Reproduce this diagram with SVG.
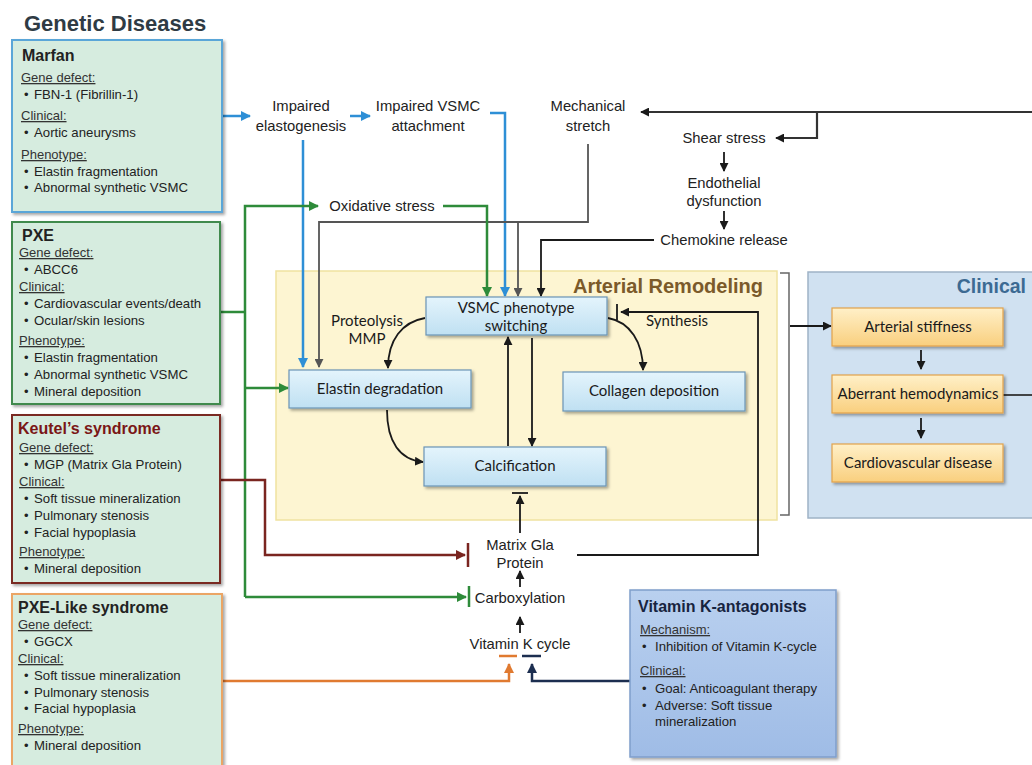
<svg xmlns="http://www.w3.org/2000/svg" width="1032" height="765" viewBox="0 0 1032 765">
<defs>
<filter id="sh" x="-10%" y="-10%" width="130%" height="130%"><feDropShadow dx="2" dy="2" stdDeviation="1.5" flood-color="#000" flood-opacity="0.35"/></filter>
<linearGradient id="gBlue" x1="0" y1="0" x2="0" y2="1"><stop offset="0" stop-color="#e4f4fc"/><stop offset="1" stop-color="#bfe0f2"/></linearGradient>
<linearGradient id="gOr" x1="0" y1="0" x2="0" y2="1"><stop offset="0" stop-color="#fff0c8"/><stop offset="1" stop-color="#f9cf7e"/></linearGradient>
<linearGradient id="gVk" x1="0" y1="0" x2="0" y2="1"><stop offset="0" stop-color="#b9d0ef"/><stop offset="1" stop-color="#9fbce6"/></linearGradient>
<marker id="aK" viewBox="0 0 10 10" refX="9" refY="5" markerWidth="9" markerHeight="9" markerUnits="userSpaceOnUse" orient="auto"><path d="M0,0 L10,5 L0,10 z" fill="#1a1a1a"/></marker>
<marker id="aG" viewBox="0 0 10 10" refX="9" refY="5" markerWidth="9" markerHeight="9" markerUnits="userSpaceOnUse" orient="auto"><path d="M0,0 L10,5 L0,10 z" fill="#555"/></marker>
<marker id="aB" viewBox="0 0 10 10" refX="9" refY="5" markerWidth="10" markerHeight="10" markerUnits="userSpaceOnUse" orient="auto"><path d="M0,0 L10,5 L0,10 z" fill="#2e8fd6"/></marker>
<marker id="aN" viewBox="0 0 10 10" refX="9" refY="5" markerWidth="10" markerHeight="10" markerUnits="userSpaceOnUse" orient="auto"><path d="M0,0 L10,5 L0,10 z" fill="#2e8b3a"/></marker>
<marker id="aR" viewBox="0 0 10 10" refX="9" refY="5" markerWidth="10" markerHeight="10" markerUnits="userSpaceOnUse" orient="auto"><path d="M0,0 L10,5 L0,10 z" fill="#7a2520"/></marker>
<marker id="aO" viewBox="0 0 10 10" refX="9" refY="5" markerWidth="10" markerHeight="10" markerUnits="userSpaceOnUse" orient="auto"><path d="M0,0 L10,5 L0,10 z" fill="#e07a30"/></marker>
<marker id="aV" viewBox="0 0 10 10" refX="9" refY="5" markerWidth="10" markerHeight="10" markerUnits="userSpaceOnUse" orient="auto"><path d="M0,0 L10,5 L0,10 z" fill="#1c2e50"/></marker>
</defs>
<style>
text{font-family:"Liberation Sans",Arial,sans-serif;fill:#222}
.gt{font-size:13.2px}
.bu{font-size:13px}
.gh{font-size:13px;text-decoration:underline;fill:#333}
.gn{font-size:16px;font-weight:bold}
.lb{font-size:14.8px;text-anchor:middle}
.bx{font-family:Lato,"Open Sans",sans-serif;font-size:15px;text-anchor:middle;fill:#1a1a1a}
.gbox{fill:#d6ecdf;stroke-width:2;filter:url(#sh)}
.nb{fill:url(#gBlue);stroke:#6b94b6;stroke-width:1.2;filter:url(#sh)}
.ob{fill:url(#gOr);stroke:#e2a24c;stroke-width:1.2;filter:url(#sh)}
.k{stroke:#1a1a1a;fill:none;stroke-width:1.8}
.g{stroke:#555;fill:none;stroke-width:1.8}
.b{stroke:#2e8fd6;fill:none;stroke-width:2.5}
.n{stroke:#2e8b3a;fill:none;stroke-width:2.5}
.r{stroke:#7a2520;fill:none;stroke-width:2.5}
.o{stroke:#e07a30;fill:none;stroke-width:2.5}
.v{stroke:#1c2e50;fill:none;stroke-width:2.5}
</style>
<rect width="1032" height="765" fill="#ffffff"/>

<text x="24" y="31" style="font-size:22px;font-weight:bold;fill:#2f3b44">Genetic Diseases</text>

<!-- Containers -->
<g id="arterial-remodeling">
<rect x="276" y="271" width="501" height="249" fill="#fdf5d2" stroke="#efe2a0" stroke-width="1.5"/>
<text x="763" y="293" text-anchor="end" style="font-size:20px;font-weight:bold;fill:#7b5a2a">Arterial Remodeling</text>
</g>
<g id="clinical">
<rect x="808" y="272" width="230" height="246" fill="#d0e1f1" stroke="#9fb3c6" stroke-width="1.5"/>
<text x="1026" y="293" text-anchor="end" style="font-size:19.5px;font-weight:bold;fill:#3c6a93">Clinical</text>
</g>

<!-- Connectors -->
<g id="connectors">
<path class="b" d="M222,116 H250" marker-end="url(#aB)"/>
<path class="b" d="M350,116 H370" marker-end="url(#aB)"/>
<path class="b" d="M303,140 V367" marker-end="url(#aB)"/>
<path class="b" d="M490,113 H505 V296" marker-end="url(#aB)"/>
<path class="g" d="M588,144 V222 H319 V367" marker-end="url(#aG)"/>
<path class="g" d="M518,222 V296" marker-end="url(#aG)"/>
<path class="n" d="M220,312 H245"/>
<path class="n" d="M245,597 V206 H318" marker-end="url(#aN)"/>
<path class="n" d="M245,388 H288" marker-end="url(#aN)"/>
<path class="n" d="M245,597 H466" marker-end="url(#aN)"/>
<line class="n" x1="469" y1="586" x2="469" y2="607"/>
<path class="n" d="M443,206 H487 V296" marker-end="url(#aN)"/>
<path class="r" d="M220,480 H265 V555 H465" marker-end="url(#aR)"/>
<line class="r" x1="468" y1="543" x2="468" y2="567"/>
<path class="o" d="M222,681 H509 V664" marker-end="url(#aO)"/>
<line class="o" x1="499" y1="656" x2="517" y2="656"/>
<path class="v" d="M630,681 H532 V664" marker-end="url(#aV)"/>
<line class="v" x1="522" y1="656" x2="541" y2="656"/>
<path class="k" d="M520,633 V617" marker-end="url(#aK)"/>
<path class="k" d="M520,587 V571" marker-end="url(#aK)"/>
<path class="k" d="M520,533 V496" marker-end="url(#aK)"/>
<line class="k" x1="512" y1="493" x2="528" y2="493"/>
<path class="k" d="M577,555 H758 V312 H621" marker-end="url(#aK)"/>
<line class="k" x1="617" y1="304" x2="617" y2="320"/>
<path class="k" d="M654,240 H541 V296" marker-end="url(#aK)"/>
<path class="k" d="M1032,112 H641" marker-end="url(#aK)" style="stroke:#333;stroke-width:2.2"/>
<path class="k" d="M817,112 V138 H776" marker-end="url(#aK)" style="stroke:#333;stroke-width:2.2"/>
<path class="k" d="M724,152 V171" marker-end="url(#aK)"/>
<path class="k" d="M724,211 V229" marker-end="url(#aK)"/>
<path class="k" d="M425,318 C402,322 388,340 388,368" marker-end="url(#aK)"/>
<path class="k" d="M608,318 C630,322 643,342 643,370" marker-end="url(#aK)"/>
<path class="k" d="M387,410 C387,442 400,460 423,462" marker-end="url(#aK)"/>
<path class="k" d="M508,446 V337" marker-end="url(#aK)"/>
<path class="k" d="M532,338 V446" marker-end="url(#aK)"/>
<path class="g" d="M780,273 H789 V515 H780" style="stroke:#666;stroke-width:1.5"/>
<path class="k" d="M790,326 H831" marker-end="url(#aK)"/>
<path class="k" d="M921,350 V369" marker-end="url(#aK)"/>
<path class="k" d="M921,418 V438" marker-end="url(#aK)"/>
<path class="k" d="M1003,395 H1032" style="stroke:#333"/>
</g>

<!-- Genetic disease nodes -->
<g id="marfan">
<rect class="gbox" x="12" y="40" width="210" height="172" stroke="#5aa6d8"/>
<text class="gn" x="22" y="61">Marfan</text>
<text class="gh" x="21" y="82">Gene defect:</text>
<text class="bu" x="24" y="99">•</text><text class="gt" x="34" y="99">FBN-1 (Fibrillin-1)</text>
<text class="gh" x="21" y="120">Clinical:</text>
<text class="bu" x="24" y="137">•</text><text class="gt" x="34" y="137">Aortic aneurysms</text>
<text class="gh" x="21" y="159">Phenotype:</text>
<text class="bu" x="24" y="176">•</text><text class="gt" x="34" y="176">Elastin fragmentation</text>
<text class="bu" x="24" y="192">•</text><text class="gt" x="34" y="192">Abnormal synthetic VSMC</text>
</g>
<g id="pxe">
<rect class="gbox" x="12" y="222" width="208" height="182" stroke="#3f8a4e"/>
<text class="gn" x="22" y="241">PXE</text>
<text class="gh" x="19" y="257">Gene defect:</text>
<text class="bu" x="24" y="274">•</text><text class="gt" x="34" y="274">ABCC6</text>
<text class="gh" x="19" y="291">Clinical:</text>
<text class="bu" x="24" y="308">•</text><text class="gt" x="34" y="308">Cardiovascular events/death</text>
<text class="bu" x="24" y="325">•</text><text class="gt" x="34" y="325">Ocular/skin lesions</text>
<text class="gh" x="19" y="345">Phenotype:</text>
<text class="bu" x="24" y="362">•</text><text class="gt" x="34" y="362">Elastin fragmentation</text>
<text class="bu" x="24" y="379">•</text><text class="gt" x="34" y="379">Abnormal synthetic VSMC</text>
<text class="bu" x="24" y="396">•</text><text class="gt" x="34" y="396">Mineral deposition</text>
</g>
<g id="keutel">
<rect class="gbox" x="12" y="415" width="208" height="168" stroke="#7a2a24"/>
<text class="gn" x="18" y="434" style="fill:#7a1616">Keutel’s syndrome</text>
<text class="gh" x="19" y="452">Gene defect:</text>
<text class="bu" x="24" y="469">•</text><text class="gt" x="34" y="469">MGP (Matrix Gla Protein)</text>
<text class="gh" x="19" y="486">Clinical:</text>
<text class="bu" x="24" y="503">•</text><text class="gt" x="34" y="503">Soft tissue mineralization</text>
<text class="bu" x="24" y="520">•</text><text class="gt" x="34" y="520">Pulmonary stenosis</text>
<text class="bu" x="24" y="537">•</text><text class="gt" x="34" y="537">Facial hypoplasia</text>
<text class="gh" x="19" y="556">Phenotype:</text>
<text class="bu" x="24" y="573">•</text><text class="gt" x="34" y="573">Mineral deposition</text>
</g>
<g id="pxe-like">
<rect class="gbox" x="12" y="594" width="210" height="180" stroke="#eba565"/>
<text class="gn" x="18" y="613">PXE-Like syndrome</text>
<text class="gh" x="18" y="629">Gene defect:</text>
<text class="bu" x="24" y="646">•</text><text class="gt" x="34" y="646">GGCX</text>
<text class="gh" x="18" y="663">Clinical:</text>
<text class="bu" x="24" y="680">•</text><text class="gt" x="34" y="680">Soft tissue mineralization</text>
<text class="bu" x="24" y="697">•</text><text class="gt" x="34" y="697">Pulmonary stenosis</text>
<text class="bu" x="24" y="713">•</text><text class="gt" x="34" y="713">Facial hypoplasia</text>
<text class="gh" x="18" y="733">Phenotype:</text>
<text class="bu" x="24" y="750">•</text><text class="gt" x="34" y="750">Mineral deposition</text>
</g>
<g id="vka">
<rect x="630" y="590" width="206" height="167" fill="url(#gVk)" stroke="#7f9ecb" stroke-width="1.5" filter="url(#sh)"/>
<text x="638" y="612" style="font-size:16px;font-weight:bold;fill:#17243f">Vitamin K-antagonists</text>
<text class="gh" x="640" y="634">Mechanism:</text>
<text class="bu" x="642" y="651">•</text><text class="gt" x="655" y="651">Inhibition of Vitamin K-cycle</text>
<text class="gh" x="640" y="675">Clinical:</text>
<text class="bu" x="642" y="693">•</text><text class="gt" x="655" y="693">Goal: Anticoagulant therapy</text>
<text class="bu" x="642" y="710">•</text><text class="gt" x="655" y="710">Adverse: Soft tissue</text>
<text class="gt" x="655" y="726">mineralization</text>
</g>

<!-- Free-text nodes -->
<g id="impaired-elastogenesis"><text class="lb" x="301" y="111">Impaired</text><text class="lb" x="301" y="131">elastogenesis</text></g>
<g id="impaired-vsmc"><text class="lb" x="428" y="111">Impaired VSMC</text><text class="lb" x="428" y="131">attachment</text></g>
<g id="mechanical-stretch"><text class="lb" x="588" y="111">Mechanical</text><text class="lb" x="588" y="131">stretch</text></g>
<g id="shear-stress"><text class="lb" x="724" y="143">Shear stress</text></g>
<g id="endothelial"><text class="lb" x="724" y="188">Endothelial</text><text class="lb" x="724" y="206">dysfunction</text></g>
<g id="chemokine"><text class="lb" x="724" y="245">Chemokine release</text></g>
<g id="oxidative"><text class="lb" x="382" y="211">Oxidative stress</text></g>
<g id="mgp"><text class="lb" x="520" y="550">Matrix Gla</text><text class="lb" x="520" y="568">Protein</text></g>
<g id="carboxylation"><text class="lb" x="520" y="603">Carboxylation</text></g>
<g id="vitk-cycle"><text class="lb" x="520" y="649">Vitamin K cycle</text></g>

<!-- Remodeling nodes -->
<g id="vsmc">
<rect class="nb" x="426" y="297" width="181" height="38"/>
<text class="bx" x="516" y="313">VSMC phenotype</text>
<text class="bx" x="516" y="331">switching</text>
</g>
<g id="elastin">
<rect class="nb" x="289" y="370" width="182" height="38"/>
<text class="bx" x="380" y="394">Elastin degradation</text>
</g>
<g id="collagen">
<rect class="nb" x="563" y="372" width="182" height="39"/>
<text class="bx" x="654" y="396">Collagen deposition</text>
</g>
<g id="calcification">
<rect class="nb" x="424" y="447" width="182" height="39"/>
<text class="bx" x="515" y="471">Calcification</text>
</g>
<text class="bx" x="367" y="326">Proteolysis</text>
<text class="bx" x="367" y="344">MMP</text>
<text class="bx" x="677" y="326">Synthesis</text>

<!-- Clinical nodes -->
<g id="stiffness"><rect class="ob" x="832" y="308" width="171" height="38"/><text class="bx" x="918" y="332">Arterial stiffness</text></g>
<g id="hemodynamics"><rect class="ob" x="832" y="375" width="171" height="38"/><text class="bx" x="918" y="399">Aberrant hemodynamics</text></g>
<g id="cvd"><rect class="ob" x="832" y="444" width="171" height="38"/><text class="bx" x="918" y="468">Cardiovascular disease</text></g>
</svg>
